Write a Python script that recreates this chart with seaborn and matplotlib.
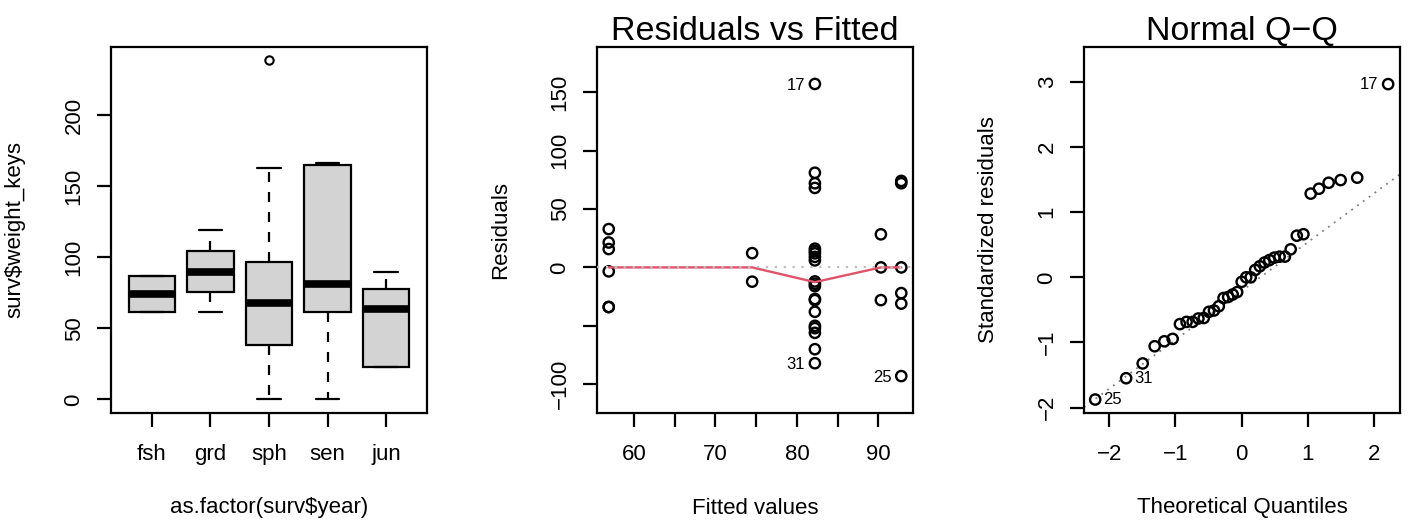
import pandas as pd
import matplotlib
matplotlib.use("Agg")
import matplotlib.pyplot as plt
import seaborn as sns

# Panel 1: boxplot summary (R fivenum style)
groups = ["fsh", "grd", "sph", "sen", "jun"]
whisk_lo = [61.8, 61.8, 0.0, 0.0, 23.0]
box_q1 = [61.8, 75.9, 38.5, 61.8, 23.0]
box_med = [74.5, 90.0, 67.9, 81.5, 63.7]
box_q3 = [86.7, 104.6, 96.8, 165.0, 77.8]
whisk_hi = [86.7, 119.1, 163.1, 166.8, 89.8]
outliers = [[], [], [238.7], [], []]

# Panel 2: residuals vs fitted, one list of residuals per fitted level
fitted_levels = [56.9, 74.5, 82.2, 90.3, 92.8]
resid_jun = [32.8, 21.3, 15.7, -3.4, -33.9, -33.9]
resid_fsh = [12.2, -12.2]
resid_sph = [157, 81, 72, 68, 16, 14, 12, 9, 6, -12, -14, -16,
             -27, -28, -38, -50, -52, -56, -70, -82]
resid_grd = [28.3, 0.0, -28.0]
resid_sen = [74, 72, 0, -22, -31, -93]
smooth_y = [0.0, 0.0, -12.6, 0.0, 0.0]
resid_ids = [(82.2, 157, "17"), (82.2, -82, "31"), (92.8, -93, "25")]

# Panel 3: normal Q-Q
theo_q = [-2.211, -1.744, -1.494, -1.313, -1.167, -1.042, -0.932, -0.832, -0.740,
          -0.653, -0.572, -0.493, -0.418, -0.345, -0.274, -0.204, -0.136, -0.068,
          0.0, 0.068, 0.136, 0.204, 0.274, 0.345, 0.418, 0.493, 0.572, 0.653,
          0.740, 0.832, 0.932, 1.042, 1.167, 1.313, 1.494, 1.744, 2.211]
std_resid = [-1.876, -1.549, -1.322, -1.058, -0.982, -0.945, -0.718, -0.684, -0.684,
             -0.632, -0.625, -0.529, -0.510, -0.444, -0.318, -0.302, -0.264, -0.227,
             -0.069, 0.0, 0.0, 0.113, 0.170, 0.227, 0.264, 0.302, 0.317, 0.318,
             0.430, 0.639, 0.662, 1.285, 1.360, 1.452, 1.493, 1.530, 2.966]
qq_intercept = -0.21
qq_slope = 0.75
qq_ids = [(2.211, 2.966, "17"), (-1.744, -1.549, "31"), (-2.211, -1.876, "25")]

sns.set_style("ticks")
plt.rcParams["font.family"] = ["Liberation Sans", "DejaVu Sans"]
plt.rcParams["text.color"] = "black"
plt.rcParams["axes.labelcolor"] = "black"
plt.rcParams["axes.edgecolor"] = "black"
plt.rcParams["axes.linewidth"] = 1.5
plt.rcParams["xtick.color"] = "black"
plt.rcParams["ytick.color"] = "black"
plt.rcParams["xtick.labelcolor"] = "black"
plt.rcParams["ytick.labelcolor"] = "black"

LBL = 16
fig = plt.figure(figsize=(14.08, 5.31), dpi=100)
W, H = 1408, 531


def make_ax(x0, x1, y0=47, y1=413):
    return fig.add_axes([x0 / W, (H - y1) / H, (x1 - x0) / W, (y1 - y0) / H])


def style_ax(ax, width_px):
    for s in ax.spines.values():
        s.set_visible(True)
        s.set_color("black")
        s.set_linewidth(1.6)
    ax.tick_params(axis="both", length=10, width=1.6, labelsize=LBL, direction="out",
                   colors="black")
    ax.tick_params(axis="x", pad=12)
    ax.tick_params(axis="y", pad=9, labelrotation=90)
    for t in ax.get_yticklabels():
        t.set_va("center")
    ax.xaxis.label.set_size(LBL)
    ax.yaxis.label.set_size(LBL)
    ax.xaxis.label.set_va("center")
    ax.yaxis.label.set_va("center")
    ax.xaxis.set_label_coords(0.5, -95 / 366)
    ax.yaxis.set_label_coords(-96 / width_px, 0.5)
    ax.grid(False)


# ---- panel 1: boxplot ----
ax1 = make_ax(111, 427)
stats = []
for i, g in enumerate(groups):
    stats.append(dict(label=g, whislo=whisk_lo[i], q1=box_q1[i], med=box_med[i],
                      q3=box_q3[i], whishi=whisk_hi[i], fliers=outliers[i]))
ax1.bxp(stats, positions=range(1, 6), widths=0.8, capwidths=0.4, patch_artist=True,
        boxprops=dict(facecolor="#D3D3D3", edgecolor="black", linewidth=1.6),
        medianprops=dict(color="black", linewidth=5.5, solid_capstyle="butt"),
        whiskerprops=dict(color="black", linewidth=1.6, linestyle=(0, (4.5, 4.5))),
        capprops=dict(color="black", linewidth=1.6),
        flierprops=dict(marker="o", markerfacecolor="none", markeredgecolor="black",
                        markersize=6, markeredgewidth=1.5))
ax1.set_xlim(0.3, 5.7)
ax1.set_ylim(-9.55, 248.2)
ax1.set_xticks(range(1, 6))
ax1.set_xticklabels(groups)
ax1.set_yticks([0, 50, 100, 150, 200])
ax1.set_xlabel("as.factor(surv$year)")
ax1.set_ylabel("surv$weight_keys")
style_ax(ax1, 316)

# ---- panel 2: residuals vs fitted ----
ax2 = make_ax(597, 913)
resid_lists = [resid_jun, resid_fsh, resid_sph, resid_grd, resid_sen]
rows = []
for fv, rl in zip(fitted_levels, resid_lists):
    for r in rl:
        rows.append({"fitted": fv, "resid": r})
df_res = pd.DataFrame(rows)
sns.scatterplot(data=df_res, x="fitted", y="resid", ax=ax2, marker="o", s=55,
                facecolors="none", edgecolor="black", linewidth=1.7, zorder=3)
sns.lineplot(x=fitted_levels, y=smooth_y, ax=ax2, color="#DF536B", linewidth=1.7,
             zorder=4)
ax2.axhline(0, color="#BEBEBE", linestyle=(0, (1, 3)), linewidth=1.6, zorder=5)
for x, y, t in resid_ids:
    ax2.annotate(t, (x, y), xytext=(-7, -1), textcoords="offset points",
                 ha="right", va="center", fontsize=12)
ax2.set_xlim(55.46, 94.24)
ax2.set_ylim(-124.6, 188.6)
ax2.set_xticks([60, 65, 70, 75, 80, 85, 90])
ax2.set_xticklabels(["60", "", "70", "", "80", "", "90"])
ax2.set_yticks([-100, -50, 0, 50, 100, 150])
ax2.set_yticklabels(["\u2212100", "", "0", "50", "100", "150"])
ax2.set_xlabel("Fitted values")
ax2.set_ylabel("Residuals")
ax2.set_title("Residuals vs Fitted", fontsize=24.5, pad=3.6, color="black")
style_ax(ax2, 316)

# ---- panel 3: normal Q-Q ----
ax3 = make_ax(1084, 1400)
df_qq = pd.DataFrame({"theo": theo_q, "std": std_resid})
sns.scatterplot(data=df_qq, x="theo", y="std", ax=ax3, marker="o", s=55,
                facecolors="none", edgecolor="black", linewidth=1.7, zorder=3)
ax3.axline((0, qq_intercept), slope=qq_slope, color="#7F7F7F",
           linestyle=(0, (1, 3)), linewidth=1.3, zorder=2)
for x, y, t in qq_ids:
    if x > 0:
        ax3.annotate(t, (x, y), xytext=(-7, 0), textcoords="offset points",
                     ha="right", va="center", fontsize=12)
    else:
        ax3.annotate(t, (x, y), xytext=(6, 0), textcoords="offset points",
                     ha="left", va="center", fontsize=12)
ax3.set_xlim(-2.38, 2.39)
ax3.set_ylim(-2.083, 3.536)
ax3.set_xticks([-2, -1, 0, 1, 2])
ax3.set_yticks([-2, -1, 0, 1, 2, 3])
ax3.set_xlabel("Theoretical Quantiles")
ax3.set_ylabel("Standardized residuals")
ax3.set_title("Normal Q\u2212Q", fontsize=24.5, pad=3.6, color="black")
style_ax(ax3, 316)

fig.savefig("out.png", dpi=100, facecolor="white")
